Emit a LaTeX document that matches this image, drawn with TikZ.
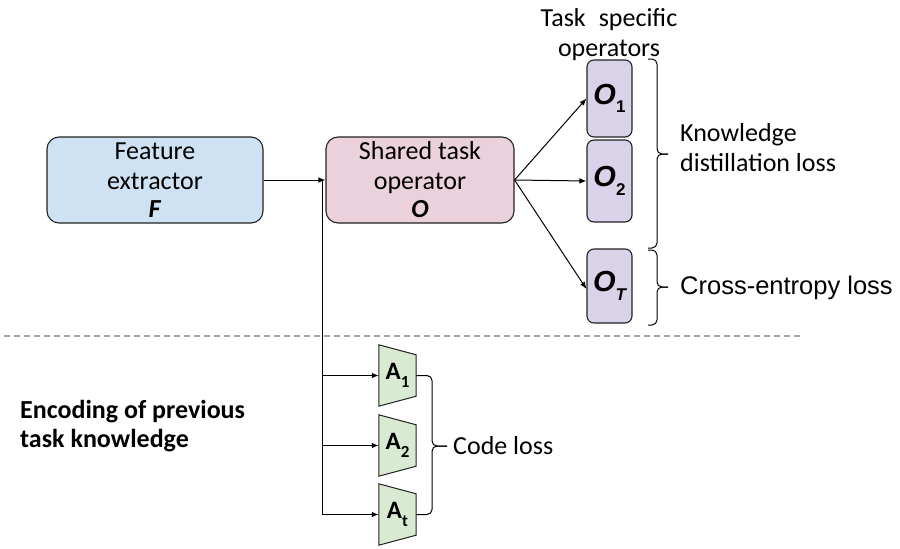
\documentclass[tikz,border=0pt]{standalone}
\usepackage{fontspec}
\setmainfont{Carlito}
\newfontfamily\arialf{Liberation Sans}
\usetikzlibrary{arrows.meta,calc}
\definecolor{fcol}{HTML}{CFE2F3}
\definecolor{scol}{HTML}{EAD1DC}
\definecolor{ocol}{HTML}{D9D2E9}
\definecolor{acol}{HTML}{D9EAD3}
\definecolor{edge}{HTML}{222222}
\definecolor{dashcol}{HTML}{A6A6A6}
\tikzset{
  bigbox/.style={draw=edge, line width=1.1pt, rounded corners=12pt, minimum height=86pt, inner sep=0pt, align=center, font=\fontsize{26}{30}\selectfont},
  opbox/.style={draw=edge, line width=1.1pt, rounded corners=7pt, fill=ocol, minimum width=45pt, inner sep=0pt, font=\arialf\bfseries\itshape\fontsize{29}{29}\selectfont},
  abox/.style={minimum width=37pt, minimum height=61pt, inner sep=0pt, font=\bfseries\fontsize{25}{25}\selectfont},
  arr/.style={-{Latex[length=7pt,width=5.5pt]}, line width=1pt},
  plain/.style={line width=1pt},
  bracepath/.style={line width=1pt, rounded corners=5pt},
  txt/.style={inner sep=0pt, font=\fontsize{26}{30}\selectfont},
}
\newcommand{\osub}[1]{\raisebox{-0.3em}{\normalfont\arialf\bfseries\fontsize{17}{17}\selectfont #1}}
\newcommand{\asub}[1]{\raisebox{-0.32em}{\fontsize{17}{17}\selectfont #1}}
\begin{document}
\begin{tikzpicture}[x=1pt,y=-1pt]
\useasboundingbox (0,0) rectangle (900,549);
% main boxes
\node[bigbox, fill=fcol, minimum width=216pt] (F) at (155,180) {Feature\\extractor\\[-2pt]\textbf{\textit{F}}};
\node[bigbox, fill=scol, minimum width=188pt] (S) at (420,180) {Shared task\\operator\\[-2pt]\textbf{\textit{O}}};
% task specific operators
\node[opbox, minimum height=77pt] (o1) at (609.5,98.5) {O\osub{1}};
\node[opbox, minimum height=82pt] (o2) at (609.5,181) {O\osub{2}};
\node[opbox, minimum height=74pt] (oT) at (609.5,286) {O\osub{\itshape T}};
\node[txt, align=center] (tso) at (609,35) {Task\hspace{0.5em}specific\\operators};
% adapters
\foreach \n/\y/\s in {a1/375.5/1, a2/445.5/2, at/514.5/t}{
  \node[abox] (\n) at (397.5,\y) {};
  \draw[edge, line width=1pt, fill=acol] (\n.north west) -- ($(\n.north east)+(0,10)$) -- ($(\n.south east)+(0,-10)$) -- (\n.south west) -- cycle;
  \node[abox] at (\n.center) {A\asub{\s}};
}
% connectors
\coordinate (j) at (322,180);
\draw[arr] (F.east) -- (S.west);
\draw[plain] (j) -- (j |- at.west);
\draw[arr] (j |- a1.west) -- (a1.west);
\draw[arr] (j |- a2.west) -- (a2.west);
\draw[arr] (j |- at.west) -- (at.west);
\draw[arr] (S.east) -- (o1.west);
\draw[arr] (S.east) -- (o2.west);
\draw[arr] (S.east) -- ([yshift=-3pt]oT.west);
% dashed separator
\coordinate (d1) at (4,336);
\coordinate (d2) at (803,336);
\draw[dashcol, line width=1.2pt, dash pattern=on 6pt off 4pt] (d1) -- (d2);
% braces
\coordinate (kd1) at (648,59);
\coordinate (kd2) at (648,248);
\draw[bracepath] (kd1) -- (657,59) -- (657,154) -- (668,154);
\draw[bracepath] (kd2) -- (657,248) -- (657,154) -- (668,154);
\coordinate (ce1) at (648,250);
\coordinate (ce2) at (648,325);
\draw[bracepath] (ce1) -- (657,250) -- (657,287) -- (668,287);
\draw[bracepath] (ce2) -- (657,325) -- (657,287) -- (668,287);
\draw[bracepath] (a1.east) -- (432,375.5) -- (432,446) -- (447,446);
\draw[bracepath] (at.east) -- (432,514.5) -- (432,446) -- (447,446);
% labels
\node[txt, anchor=base west] (kd) at (680,141) {Knowledge};
\node[txt, anchor=base west] (kd2t) at (680,171) {distillation loss};
\node[txt, anchor=west, font=\arialf\fontsize{25.5}{29}\selectfont] (ce) at (680,288) {Cross-entropy loss};
\node[txt, anchor=west] (cl) at (453,446) {Code loss};
\node[txt, anchor=base west, font=\bfseries\fontsize{26}{30}\selectfont] (enc1) at (20,418) {Encoding of previous};
\node[txt, anchor=base west, font=\bfseries\fontsize{26}{30}\selectfont] (enc2) at (20,447) {task knowledge};
\end{tikzpicture}
\end{document}
